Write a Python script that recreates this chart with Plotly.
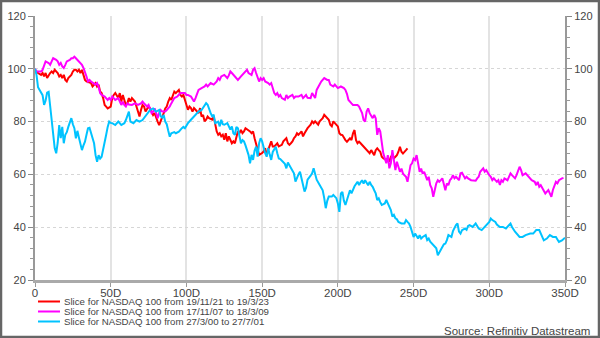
import plotly.graph_objects as go

# ---- data (day index, rebased index value) ----
red_days = [0,1,2,4,5,6,7,8,9,10,11,12,13,15,16,17,18,19,20,21,22,24,25,26,27,28,29,30,31,32,33,34,36,37,38,39,40,41,42,43,44,45,46,47,48,50,51,52,53,55,56,57,58,59,60,61,62,63,64,66,67,68,69,70,71,72,73,75,76,77,78,79,80,81,82,84,85,86,87,88,89,90,91,92,93,95,96,97,98,99,100,101,102,103,104,105,106,108,109,110,111,112,113,114,115,117,118,119,120,121,122,123,124,125,126,127,128,130,131,132,133,134,135,136,137,138,139,141,142,143,144,145,146,147,148,150,151,152,153,154,155,156,157,158,159,160,161,163,164,165,166,167,168,169,170,171,172,173,174,176,177,178,179,180,181,182,183,184,185,187,188,189,190,191,192,193,194,195,196,197,198,200,201,202,203,204,205,206,208,209,210,211,212,213,214,215,216,217,218,219,221,222,223,224,225,226,227,228,229,230,232,233,234,235,236,237,238,239,240,241,242,243,245,246]
red_vals = [99.6,99.0,98.4,97.7,98.4,97.1,98.4,96.5,97.7,98.4,99.0,98.4,99.6,98.4,97.1,97.7,96.5,97.7,95.8,95.2,96.5,97.7,99.0,99.6,99.6,99.0,99.6,98.4,99.6,97.7,95.8,95.2,94.6,94.6,93.3,94.0,94.6,93.3,94.0,91.4,90.8,88.9,86.3,85.7,85.0,85.7,88.9,90.1,90.8,88.9,90.8,87.6,90.1,88.2,86.3,86.9,88.9,87.6,88.9,87.6,85.7,83.8,81.9,84.4,86.3,85.7,83.8,85.7,85.0,83.8,82.5,83.2,81.3,80.0,78.7,81.3,83.2,85.0,85.7,87.6,88.9,88.2,89.5,91.4,90.8,92.0,90.1,89.5,90.1,88.5,86.3,84.5,85.7,85.1,83.8,85.1,84.5,83.2,85.1,81.9,82.5,80.1,80.7,81.9,81.3,80.7,81.9,78.2,76.3,75.0,75.6,74.4,75.0,73.1,75.6,72.5,74.4,71.8,72.5,71.8,73.7,76.3,75.6,76.9,75.6,76.3,77.5,76.9,76.3,75.6,76.3,73.7,71.2,68.7,67.4,68.1,68.7,69.9,67.4,69.3,71.2,72.5,70.6,70.6,71.2,71.8,70.6,71.2,72.5,73.1,73.7,71.8,71.2,71.8,72.5,73.7,74.4,75.6,75.0,76.3,74.4,75.6,76.9,77.5,78.2,78.8,80.1,79.4,80.1,78.8,80.1,80.7,81.3,82.6,81.9,81.3,80.7,78.8,78.2,80.1,79.4,78.2,75.6,75.0,74.9,73.7,73.0,72.4,73.7,73.0,75.6,76.8,73.0,71.8,72.4,71.8,71.1,70.5,69.9,69.2,68.0,69.2,68.0,67.3,69.2,69.9,69.2,68.6,66.7,66.1,65.4,66.1,64.8,66.7,67.3,66.1,66.7,67.3,68.6,70.5,68.6,67.9,69.2,69.9]

magenta_days = [0,1,3,4,5,6,7,9,10,11,12,14,15,16,17,18,19,20,21,23,24,25,26,27,28,30,31,32,33,34,35,36,37,39,40,41,42,43,44,46,47,48,49,50,51,52,53,55,56,57,58,59,60,61,62,64,66,68,70,71,72,74,75,76,77,78,79,80,81,82,83,84,86,87,88,89,90,91,92,94,96,98,99,100,101,103,104,105,106,107,108,110,112,113,114,116,118,120,121,122,123,125,127,128,129,130,132,134,136,138,140,141,143,144,145,146,147,148,149,150,151,152,154,155,156,157,158,159,160,161,162,163,165,166,167,168,170,171,172,174,176,177,178,179,180,182,183,184,185,186,188,189,191,193,194,195,197,198,200,202,204,205,206,207,209,210,211,213,214,215,216,217,218,219,220,221,223,224,225,226,227,228,229,230,232,233,234,235,236,237,238,239,240,241,242,243,245,246,247,248,249,250,251,252,253,254,255,256,257,259,260,261,262,263,264,265,266,267,268,269,271,272,273,274,275,276,277,278,280,281,282,283,284,285,286,288,291,292,293,294,295,296,297,298,300,301,302,303,304,305,306,307,308,309,310,312,313,314,315,316,317,318,319,320,321,322,324,326,327,328,330,331,332,333,334,335,336,337,339,340,341,342,343,344,345,346,348,349]
magenta_vals = [100.0,99.0,99.0,99.0,99.6,101.5,102.8,102.2,101.5,102.8,104.0,103.4,102.8,101.5,102.2,100.9,100.3,101.5,102.8,103.4,104.0,104.0,104.6,104.0,103.4,102.2,101.5,100.3,99.0,97.1,95.2,95.8,95.2,94.6,94.0,94.6,93.3,90.8,90.1,89.5,88.9,88.2,88.9,88.2,89.5,88.9,88.2,88.9,87.6,86.3,87.6,86.3,85.7,86.9,86.5,86.3,86.9,86.3,86.9,87.6,86.9,85.7,86.3,84.4,83.2,83.8,85.0,83.2,81.3,83.2,84.4,83.8,83.8,84.4,85.0,85.7,86.9,88.2,88.9,89.5,90.8,90.8,90.8,90.1,90.1,89.5,88.3,87.6,88.9,90.8,92.0,92.7,93.3,94.0,93.3,94.6,94.0,95.2,96.5,95.8,97.1,97.7,96.5,97.5,99.0,98.4,97.1,95.8,97.1,98.4,99.6,98.4,97.7,99.6,100.2,98.4,96.5,95.2,96.5,95.8,96.5,95.2,94.6,94.0,94.6,92.7,90.8,90.1,90.8,89.5,90.1,88.9,88.3,90.1,88.9,89.5,90.1,88.9,89.5,89.5,90.1,88.9,89.5,90.1,89.0,88.9,90.8,89.5,88.9,92.0,94.0,95.2,96.5,95.8,95.8,94.0,93.3,94.0,92.7,93.3,92.7,92.0,90.5,88.2,86.9,86.3,86.3,86.3,85.7,84.4,83.2,80.6,80.0,83.8,85.0,83.2,81.3,82.5,81.3,75.0,77.5,76.2,72.4,68.0,64.2,67.3,62.3,64.2,69.2,66.1,61.6,64.8,62.9,61.0,62.2,60.3,59.1,57.2,60.3,63.5,64.2,66.0,65.4,67.3,64.2,61.0,62.2,60.3,61.0,57.8,59.1,55.9,54.7,51.5,54.1,56.6,57.8,57.2,57.8,58.5,54.0,56.6,55.9,57.8,58.5,59.7,58.5,59.1,57.8,60.4,60.6,59.7,58.5,59.1,58.5,57.8,57.6,58.5,59.1,61.0,61.6,62.3,61.0,61.6,59.7,59.1,57.8,58.5,57.8,57.2,57.8,56.0,57.8,57.2,58.5,57.8,59.1,60.4,59.7,59.1,58.5,59.7,61.6,62.9,61.6,59.7,60.4,59.1,58.5,57.8,57.2,55.9,57.2,55.3,55.9,54.7,53.5,52.8,54.1,52.8,51.5,54.1,55.9,57.2,56.6,57.8,58.5,58.7]

cyan_days = [0,1,2,3,4,5,6,7,8,9,10,11,12,13,14,15,16,17,18,19,20,21,22,23,24,25,26,27,28,29,30,31,32,33,34,35,36,37,38,39,40,41,42,43,44,45,46,47,48,49,50,51,53,55,57,59,60,62,63,65,67,69,71,73,74,76,78,80,82,83,84,85,86,87,88,89,90,92,93,95,97,98,99,100,101,103,105,107,108,110,112,113,114,115,116,117,118,119,121,122,123,124,125,127,129,130,131,132,133,134,135,136,137,138,139,140,141,142,143,144,145,146,147,148,149,150,151,152,153,154,155,156,157,159,160,161,162,164,165,166,167,168,169,170,171,172,173,174,175,176,177,178,179,180,182,183,184,185,186,188,190,191,192,193,194,196,197,199,200,201,202,203,204,205,206,207,208,209,210,211,213,214,215,216,217,218,220,221,222,223,224,225,226,227,228,229,231,232,233,235,236,237,238,239,240,242,244,245,246,247,248,249,250,251,252,253,254,255,256,258,259,260,261,262,264,265,266,267,268,269,270,271,272,273,275,276,278,279,280,281,282,284,285,286,287,289,291,292,293,295,297,299,300,301,302,304,305,307,309,311,313,314,315,317,320,322,324,327,329,331,333,334,335,336,338,340,342,344,346,348,350]
cyan_vals = [100.0,97.7,93.0,92.0,91.0,90.0,86.3,88.0,91.0,91.3,86.0,80.0,75.6,70.0,68.0,72.0,78.7,73.7,78.0,71.8,75.0,76.0,78.0,80.0,81.3,79.0,77.5,73.7,76.5,74.0,71.0,69.2,71.0,72.4,75.0,77.5,77.7,76.0,74.3,71.8,67.3,64.8,67.3,66.0,66.7,70.0,72.4,75.0,78.0,80.0,79.5,79.4,78.7,80.0,78.7,79.4,80.6,83.8,80.0,79.4,80.6,80.0,80.6,82.0,83.0,84.4,85.0,83.8,84.4,82.0,81.5,82.5,80.0,79.0,76.5,74.3,75.6,76.0,75.6,76.2,77.5,78.0,77.5,78.7,79.4,80.7,82.0,83.2,83.8,84.4,86.4,87.0,86.4,84.4,83.2,82.0,82.6,79.4,80.0,78.2,80.7,79.0,78.8,79.4,77.0,78.2,75.6,75.0,78.0,77.5,74.0,71.8,73.0,72.5,71.0,69.3,67.4,64.2,67.4,65.5,69.0,70.5,66.7,71.8,73.7,72.5,70.0,68.0,66.7,70.0,67.5,65.5,68.5,70.5,68.0,66.0,65.8,64.8,64.0,62.3,64.5,63.5,62.4,61.0,60.4,57.3,59.0,60.0,61.0,58.5,56.6,53.5,55.0,58.0,59.5,60.4,62.3,60.5,58.0,56.0,54.0,51.0,47.2,50.0,51.6,51.6,52.2,51.0,49.0,45.8,52.8,53.4,50.0,48.4,50.3,52.0,54.0,52.8,54.0,55.5,57.2,56.0,57.0,57.8,56.5,57.8,55.9,57.2,56.0,55.3,54.0,52.8,50.3,50.9,49.5,48.4,49.0,50.3,49.0,46.5,44.0,44.7,43.4,43.0,42.0,41.4,41.4,42.7,42.0,41.4,40.1,37.6,36.3,37.6,36.5,35.7,37.0,35.7,36.3,37.0,35.1,35.7,34.5,33.8,32.5,32.0,29.4,30.6,31.3,32.5,33.5,33.8,35.1,37.0,36.3,38.5,40.8,41.4,38.3,37.6,38.9,39.5,39.0,40.5,40.8,40.1,41.4,40.5,39.5,38.9,40.1,41.5,42.0,43.3,42.7,42.0,41.0,40.1,40.1,39.5,40.8,41.4,40.1,38.3,36.3,36.3,37.0,37.6,37.6,38.9,38.9,37.6,36.3,35.0,35.7,37.0,36.3,36.3,34.4,35.0,36.0]

series_names = [
    "Slice for NASDAQ 100 from 19/11/21 to 19/3/23",
    "Slice for NASDAQ 100 from 17/11/07 to 18/3/09",
    "Slice for NASDAQ 100 from 27/3/00 to 27/7/01",
]
series_colors = ["#FF0000", "#FF00FF", "#00C3FF"]

x_tick_vals = [0, 50, 100, 150, 200, 250, 300, 350]
x_tick_text = ["0", "50D", "100D", "150D", "200D", "250D", "300D", "350D"]
y_tick_vals = [20, 40, 60, 80, 100, 120]
source_text = "Source: Refinitiv Datastream"

FONT = "Arial, Liberation Sans, sans-serif"
W, H = 600, 338
ML, MR, MT, MB = 35, 35, 16, 58
PW, PH = W - ML - MR, H - MT - MB

def px_to_paper_x(px):
    return (px - ML) / PW

def px_to_paper_y(py):
    return (H - MB - py) / PH

fig = go.Figure()
all_series = [
    (red_days, red_vals, series_names[0], series_colors[0]),
    (magenta_days, magenta_vals, series_names[1], series_colors[1]),
    (cyan_days, cyan_vals, series_names[2], series_colors[2]),
]
for days, vals, name, color in all_series:
    fig.add_trace(go.Scatter(x=days, y=vals, mode="lines", name=name,
                             showlegend=False,
                             line=dict(color=color, width=2)))

# invisible trace to anchor the right-hand axis
fig.add_trace(go.Scatter(x=[0], y=[100], yaxis="y2", mode="lines",
                         showlegend=False, hoverinfo="skip",
                         line=dict(color="rgba(0,0,0,0)")))

# compact legend drawn as line samples + text
shapes = []
annotations = []
for i, (_, _, name, color) in enumerate(all_series):
    py = 301.5 + 10 * i
    shapes.append(dict(type="line", xref="paper", yref="paper",
                       x0=px_to_paper_x(38), x1=px_to_paper_x(60),
                       y0=px_to_paper_y(py), y1=px_to_paper_y(py),
                       line=dict(color=color, width=2)))
    annotations.append(dict(text=name, xref="paper", yref="paper",
                            x=px_to_paper_x(63), y=px_to_paper_y(py),
                            xanchor="left", yanchor="middle", showarrow=False,
                            borderpad=0,
                            font=dict(family=FONT, size=9.7, color="#444")))

annotations.append(dict(text=source_text, xref="paper", yref="paper",
                        x=px_to_paper_x(591), y=px_to_paper_y(331),
                        xanchor="right", yanchor="middle", showarrow=False,
                        borderpad=0,
                        font=dict(family=FONT, size=11.5, color="#444")))
shapes.append(dict(type="rect", xref="paper", yref="paper",
                   x0=px_to_paper_x(1), x1=px_to_paper_x(599),
                   y0=px_to_paper_y(337), y1=px_to_paper_y(1),
                   line=dict(color="#666", width=2.5), layer="above"))

axis_common = dict(
    range=[20, 120], tickvals=y_tick_vals, ticks="outside", ticklen=5,
    tickwidth=1, tickcolor="#888", showline=True, linecolor="#999", linewidth=2,
    tickfont=dict(family=FONT, size=11, color="#444"),
    minor=dict(dtick=4, ticks="outside", ticklen=3, tickcolor="#999", showgrid=False),
    zeroline=False,
)

fig.update_layout(
    width=W, height=H,
    margin=dict(l=ML, r=MR, t=MT, b=MB, autoexpand=False),
    paper_bgcolor="white", plot_bgcolor="white",
    font=dict(family=FONT, size=10, color="#444"),
    xaxis=dict(range=[0, 350], tickvals=x_tick_vals, ticktext=x_tick_text,
               ticks="", showline=True, linecolor="#aaa", linewidth=2.5,
               minor=dict(tick0=0, dtick=50, ticks="outside", ticklen=4,
                          tickcolor="#999", showgrid=False),
               showgrid=True, gridcolor="#e3e3e3", gridwidth=1.5,
               zeroline=False, automargin=False,
               tickfont=dict(family=FONT, size=11.5, color="#444")),
    yaxis=dict(showgrid=True, gridcolor="#d6d6d6", griddash="dot", gridwidth=1,
               side="left", automargin=False, **axis_common),
    yaxis2=dict(showgrid=False, side="right", overlaying="y", automargin=False,
                **axis_common),
    showlegend=False,
    annotations=annotations,
    shapes=shapes,
)

fig.write_html("out.html")
